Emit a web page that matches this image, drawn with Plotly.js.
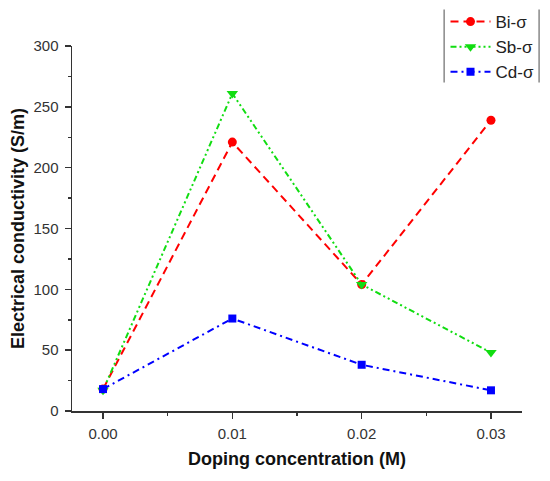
<!DOCTYPE html>
<html><head><meta charset="utf-8">
<script src="https://cdn.plot.ly/plotly-3.0.1.min.js"></script>
<style>html,body{margin:0;padding:0;background:#fff}#c{width:550px;height:481px}</style>
</head><body><div id="c"></div>
<script>
const doping = [0.00, 0.01, 0.02, 0.03];
const biSigma = [18, 221, 104, 239];
const sbSigma = [17, 261, 104, 48];
const cdSigma = [18, 76, 38, 17];
const seriesNames = ['Bi-σ', 'Sb-σ', 'Cd-σ'];
const xTickVals = [0, 0.01, 0.02, 0.03];
const xTickText = ['0.00', '0.01', '0.02', '0.03'];

const traces = [
  {x: doping, y: biSigma, name: seriesNames[0], mode: 'lines+markers',
   line: {color: '#ff0000', width: 2, dash: '8px,5px'},
   marker: {symbol: 'circle', size: 9, color: '#ff0000'}},
  {x: doping, y: sbSigma, name: seriesNames[1], mode: 'lines+markers',
   line: {color: '#11dd11', width: 2, dash: '6px,3px,2px,3px,2px,3px'},
   marker: {symbol: 'triangle-down', size: 10, color: '#11dd11'}},
  {x: doping, y: cdSigma, name: seriesNames[2], mode: 'lines+markers',
   line: {color: '#0000ff', width: 2, dash: '7px,4px,2px,4px'},
   marker: {symbol: 'square', size: 8, color: '#0000ff'}}
];

const axisCommon = {
  showline: true, linecolor: '#333', linewidth: 1.5,
  ticks: 'outside', ticklen: 6, tickwidth: 1.5, tickcolor: '#333',
  showgrid: false, zeroline: false,
  tickfont: {family: 'Liberation Sans, Arial, sans-serif', size: 15, color: '#333'},
  minor: {ticks: 'outside', ticklen: 3, tickwidth: 1.5, tickcolor: '#333', showgrid: false}
};

const layout = {
  width: 550, height: 481,
  margin: {l: 72, r: 28, t: 46, b: 70, autoexpand: false},
  paper_bgcolor: '#fff', plot_bgcolor: '#fff',
  showlegend: true,
  xaxis: Object.assign({}, axisCommon, {
    range: [-0.0024, 0.0324],
    tickvals: xTickVals, ticktext: xTickText,
    ticklabelstandoff: 2,
    minor: Object.assign({}, axisCommon.minor, {dtick: 0.005, tick0: 0}),
    title: {text: '<b>Doping concentration (M)</b>', standoff: 12,
      font: {family: 'Liberation Sans, Arial, sans-serif', size: 18, color: '#111'}}
  }),
  yaxis: Object.assign({}, axisCommon, {
    range: [0, 300], dtick: 50, tick0: 0,
    ticklabelstandoff: 3,
    minor: Object.assign({}, axisCommon.minor, {dtick: 25, tick0: 0}),
    title: {text: '<b>Electrical conductivity (S/m)</b>', standoff: 4,
      font: {family: 'Liberation Sans, Arial, sans-serif', size: 18, color: '#111'}}
  }),
  legend: {
    x: 0.83, xanchor: 'left', y: 1.115, yanchor: 'top',
    bgcolor: 'rgba(0,0,0,0)', borderwidth: 0,
    font: {family: 'Liberation Sans, Arial, sans-serif', size: 17, color: '#222'},
    itemwidth: 40, tracegroupgap: 0
  },
  shapes: [
    {type: 'line', xref: 'paper', yref: 'paper', x0: 0.827, x1: 0.827, y0: 0.90, y1: 1.1,
     line: {color: '#888', width: 1.5}},
    {type: 'line', xref: 'paper', yref: 'paper', x0: 1.038, x1: 1.038, y0: 0.90, y1: 1.1,
     line: {color: '#888', width: 1.5}}
  ]
};

Plotly.newPlot('c', traces, layout, {displayModeBar: false, staticPlot: true});
</script></body></html>
